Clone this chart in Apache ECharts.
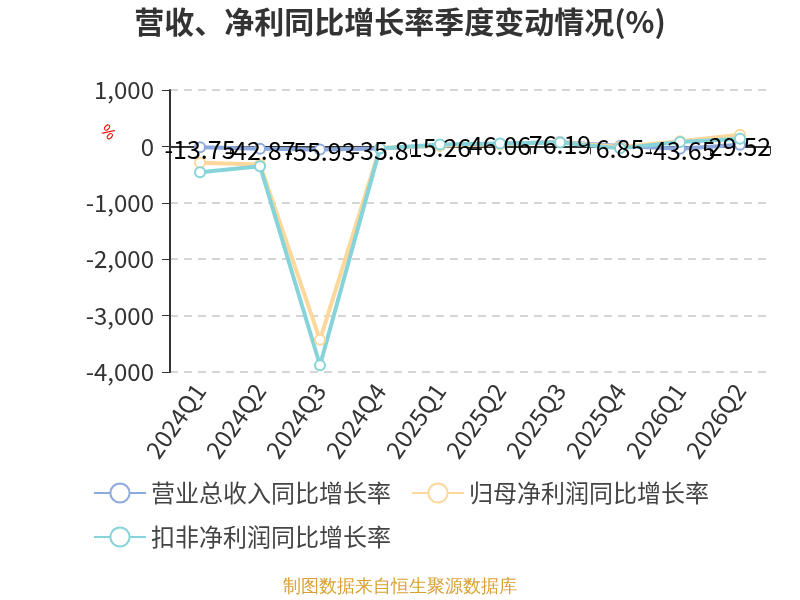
<!DOCTYPE html>
<html>
<head>
<meta charset="utf-8">
<script src="https://cdn.jsdelivr.net/npm/echarts@6/dist/echarts.min.js"></script>
<style>
  html, body { margin: 0; padding: 0; background: #fff; }
  #chart { width: 800px; height: 600px; }
</style>
</head>
<body>
<div id="chart"></div>
<script>
const quarters = ['2024Q1', '2024Q2', '2024Q3', '2024Q4', '2025Q1', '2025Q2', '2025Q3', '2025Q4', '2026Q1', '2026Q2']
const revenueYoY = [-13.75, -42.87, -55.93, -35.8, 15.26, 46.06, 76.19, 6.85, -43.65, 29.52]
const parentProfitYoY = [-290, -320, -3430, -25, 10, 40, 75, -10, 90, 205]
const deductedProfitYoY = [-460, -350, -3880, -35, 35, 53, 70, -35, 76, 136]
const seriesNames = ['营业总收入同比增长率', '归母净利润同比增长率', '扣非净利润同比增长率']
const colors = ['#8eaadc', '#fdd89a', '#86d4d9']

const myChart = echarts.init(document.getElementById('chart'))

const lineSeries = (name, data, color, showLabel) => ({
  name: name,
  type: 'line',
  data: data,
  symbol: 'emptyCircle',
  symbolSize: 10,
  color: color,
  lineStyle: {width: 4, color: color},
  itemStyle: {color: color, borderWidth: 2},
  label: {
    show: showLabel,
    position: 'inside',
    fontSize: 25,
    offset: [0, 2],
    color: '#000'
  }
})

myChart.setOption({
  animation: false,
  textStyle: {fontFamily: 'Noto Sans CJK SC'},
  title: {
    text: '营收、净利同比增长率季度变动情况(%)',
    left: 'center',
    top: 2,
    textStyle: {fontSize: 30, fontWeight: 'bold', color: '#333'}
  },
  legend: {
    data: seriesNames,
    left: 88,
    top: 476,
    width: 640,
    itemWidth: 52,
    itemHeight: 24,
    itemGap: 20,
    textStyle: {fontSize: 24, color: '#444'}
  },
  grid: {left: 170, right: 30, top: 90, bottom: 228},
  graphic: [
    {
      type: 'text',
      left: 97,
      top: 122,
      rotation: -Math.PI / 4,
      style: {text: '%', fill: '#ff0000', fontSize: 16}
    },
    {
      type: 'text',
      left: 'center',
      top: 578,
      style: {text: '制图数据来自恒生聚源数据库', fill: '#d9a032', fontSize: 18}
    }
  ],
  xAxis: [
    {
      type: 'category',
      data: quarters,
      position: 'bottom',
      axisLine: {show: false, onZero: false},
      axisTick: {show: false},
      axisLabel: {rotate: 55, fontSize: 24, color: '#333', margin: 14, interval: 0}
    },
    {
      type: 'category',
      data: quarters,
      position: 'bottom',
      axisLine: {show: true, onZero: true, lineStyle: {color: '#333', width: 2}},
      axisTick: {show: true, length: 8, lineStyle: {color: '#333'}},
      axisLabel: {show: false}
    }
  ],
  yAxis: {
    type: 'value',
    min: -4000,
    max: 1000,
    interval: 1000,
    axisLine: {show: true, lineStyle: {color: '#333', width: 2}},
    axisTick: {show: true, length: 8, lineStyle: {color: '#333'}},
    axisLabel: {fontSize: 24, color: '#333', margin: 16},
    splitLine: {lineStyle: {type: [8, 6], color: '#c8c8c8', width: 1.5}}
  },
  series: [
    lineSeries(seriesNames[0], revenueYoY, colors[0], true),
    lineSeries(seriesNames[1], parentProfitYoY, colors[1], false),
    lineSeries(seriesNames[2], deductedProfitYoY, colors[2], false)
  ]
})
</script>
</body>
</html>
